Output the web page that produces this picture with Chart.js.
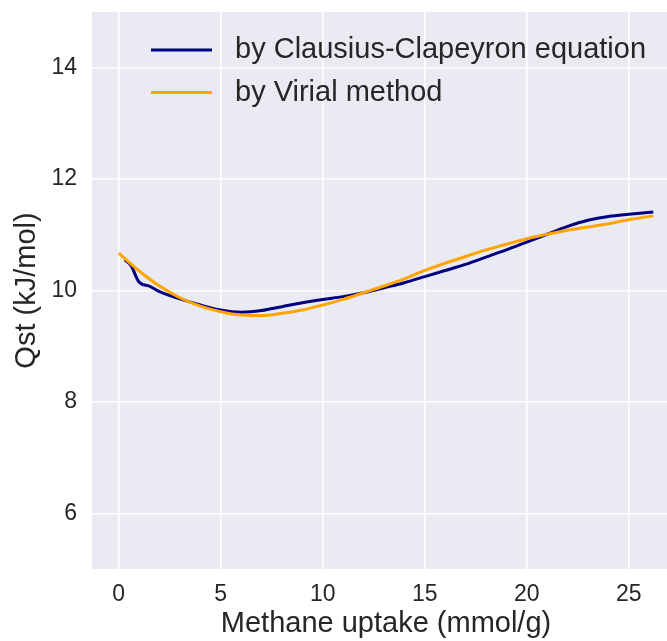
<!DOCTYPE html>
<html>
<head>
<meta charset="utf-8">
<script src="https://cdn.jsdelivr.net/npm/chart.js@4"></script>
<style>
  html, body { margin: 0; padding: 0; overflow: hidden; background: #fff; }
  canvas { display: block; }
</style>
</head>
<body>
<canvas id="qstChart" width="680" height="641"></canvas>
<script>
// Clausius-Clapeyron curve
const ccUptake = [0.3, 0.6, 1.0, 1.5, 2, 3, 4, 5, 6, 7, 8, 9, 10, 11, 12, 13, 14, 15, 16, 17, 18, 19, 20, 21, 22, 23, 24, 25, 26.2];
const ccQst = [10.55, 10.45, 10.15, 10.08, 9.98, 9.85, 9.74, 9.65, 9.61, 9.64, 9.71, 9.78, 9.84, 9.89, 9.96, 10.05, 10.14, 10.25, 10.36, 10.47, 10.60, 10.73, 10.87, 11.01, 11.15, 11.26, 11.33, 11.37, 11.41];

// Virial method curve
const virUptake = [0, 1, 2, 3, 4, 5, 6, 7, 8, 9, 10, 11, 12, 13, 14, 15, 16, 17, 18, 19, 20, 21, 22, 23, 24, 25, 26.2];
const virQst = [10.67, 10.35, 10.08, 9.87, 9.72, 9.62, 9.56, 9.55, 9.59, 9.65, 9.74, 9.84, 9.96, 10.08, 10.21, 10.36, 10.49, 10.61, 10.73, 10.83, 10.93, 11.01, 11.08, 11.14, 11.20, 11.27, 11.34];

const xTicks = [0, 5, 10, 15, 20, 25];
const yTicks = [6, 8, 10, 12, 14];

const toPoints = (xs, ys) => xs.map((x, i) => ({ x: x, y: ys[i] }));

const FONT = '"Liberation Sans", Arial, sans-serif';
const TEXT = '#262626';

const bgPlugin = {
  id: 'areaBg',
  beforeDraw(chart) {
    const { ctx, chartArea: a } = chart;
    ctx.save();
    ctx.fillStyle = '#EAEAF2';
    ctx.fillRect(a.left, a.top, a.right - a.left, a.bottom - a.top);
    ctx.restore();
  }
};

const legendPlugin = {
  id: 'insideLegend',
  afterDatasetsDraw(chart) {
    const { ctx, chartArea: a } = chart;
    ctx.save();
    chart.data.datasets.forEach((ds, i) => {
      const y = a.top + 38 + i * 42.6;
      ctx.strokeStyle = ds.borderColor;
      ctx.lineWidth = 3;
      ctx.beginPath();
      ctx.moveTo(a.left + 59, y);
      ctx.lineTo(a.left + 120, y);
      ctx.stroke();
      ctx.fillStyle = TEXT;
      ctx.font = '29px ' + FONT;
      ctx.textBaseline = 'middle';
      ctx.fillText(ds.label, a.left + 143, y);
    });
    ctx.restore();
  }
};

new Chart(document.getElementById('qstChart'), {
  type: 'line',
  data: {
    datasets: [{
      label: 'by Clausius-Clapeyron equation',
      data: toPoints(ccUptake, ccQst),
      borderColor: 'navy',
      borderWidth: 3,
      pointRadius: 0,
      cubicInterpolationMode: 'monotone',
      order: 2
    }, {
      label: 'by Virial method',
      data: toPoints(virUptake, virQst),
      borderColor: 'orange',
      borderWidth: 3,
      pointRadius: 0,
      cubicInterpolationMode: 'monotone',
      order: 1
    }]
  },
  options: {
    responsive: false,
    animation: false,
    devicePixelRatio: 1,
    layout: { padding: { top: 12, left: 0, right: 0, bottom: 0 } },
    plugins: {
      legend: { display: false },
      tooltip: { enabled: false }
    },
    scales: {
      x: {
        type: 'linear',
        min: -1.31,
        max: 27.51,
        afterBuildTicks: (scale) => { scale.ticks = xTicks.map(v => ({ value: v })); },
        afterFit: (scale) => {
          scale.height = 72;
          scale.paddingLeft = 0;
          scale.paddingRight = 0;
        },
        grid: { color: '#ffffff', lineWidth: 1.6, drawTicks: false },
        border: { display: false },
        ticks: { padding: 12, color: TEXT, font: { family: FONT, size: 23 } },
        title: {
          display: true,
          text: 'Methane uptake (mmol/g)',
          color: TEXT,
          font: { family: FONT, size: 29 },
          padding: { top: 0, bottom: 0 }
        }
      },
      y: {
        min: 5,
        max: 15,
        afterBuildTicks: (scale) => { scale.ticks = yTicks.map(v => ({ value: v })); },
        afterFit: (scale) => {
          scale.width = 92;
          scale.paddingTop = 0;
          scale.paddingBottom = 0;
        },
        grid: { color: '#ffffff', lineWidth: 1.6, drawTicks: false },
        border: { display: false },
        ticks: { padding: 15, color: TEXT, font: { family: FONT, size: 23 } },
        title: {
          display: true,
          text: 'Qst (kJ/mol)',
          color: TEXT,
          font: { family: FONT, size: 29 },
          padding: { top: 10, bottom: 0 }
        }
      }
    }
  },
  plugins: [bgPlugin, legendPlugin]
});
</script>
</body>
</html>
